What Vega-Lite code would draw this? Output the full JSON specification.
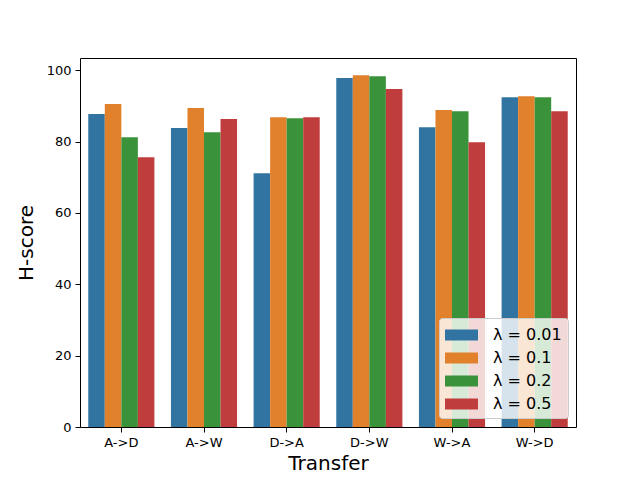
{
  "$schema": "https://vega.github.io/schema/vega-lite/v6.json",
  "autosize": {"type": "none"},
  "padding": {"left": 80, "top": 58, "right": 64, "bottom": 53},
  "width": 496,
  "height": 369,
  "background": "white",
  "config": {
    "font": "DejaVu Sans",
    "view": {"stroke": "black", "strokeWidth": 1}
  },
  "data": {
    "values": [
      {"transfer": "A->D", "lambda": "λ = 0.01", "h": 87.7},
      {"transfer": "A->D", "lambda": "λ = 0.1", "h": 90.5},
      {"transfer": "A->D", "lambda": "λ = 0.2", "h": 81.2},
      {"transfer": "A->D", "lambda": "λ = 0.5", "h": 75.6},
      {"transfer": "A->W", "lambda": "λ = 0.01", "h": 83.8},
      {"transfer": "A->W", "lambda": "λ = 0.1", "h": 89.4},
      {"transfer": "A->W", "lambda": "λ = 0.2", "h": 82.6},
      {"transfer": "A->W", "lambda": "λ = 0.5", "h": 86.3},
      {"transfer": "D->A", "lambda": "λ = 0.01", "h": 71.1},
      {"transfer": "D->A", "lambda": "λ = 0.1", "h": 86.8},
      {"transfer": "D->A", "lambda": "λ = 0.2", "h": 86.5},
      {"transfer": "D->A", "lambda": "λ = 0.5", "h": 86.8},
      {"transfer": "D->W", "lambda": "λ = 0.01", "h": 97.8},
      {"transfer": "D->W", "lambda": "λ = 0.1", "h": 98.6},
      {"transfer": "D->W", "lambda": "λ = 0.2", "h": 98.3},
      {"transfer": "D->W", "lambda": "λ = 0.5", "h": 94.7},
      {"transfer": "W->A", "lambda": "λ = 0.01", "h": 84.0},
      {"transfer": "W->A", "lambda": "λ = 0.1", "h": 88.8},
      {"transfer": "W->A", "lambda": "λ = 0.2", "h": 88.5},
      {"transfer": "W->A", "lambda": "λ = 0.5", "h": 79.8},
      {"transfer": "W->D", "lambda": "λ = 0.01", "h": 92.4},
      {"transfer": "W->D", "lambda": "λ = 0.1", "h": 92.7},
      {"transfer": "W->D", "lambda": "λ = 0.2", "h": 92.4},
      {"transfer": "W->D", "lambda": "λ = 0.5", "h": 88.5}
    ]
  },
  "mark": {"type": "bar"},
  "encoding": {
    "x": {
      "field": "transfer",
      "type": "nominal",
      "sort": null,
      "scale": {"paddingInner": 0.2, "paddingOuter": 0.1},
      "axis": {
        "title": "Transfer",
        "titleFontSize": 20,
        "titleFontWeight": "normal",
        "titleColor": "black",
        "titlePadding": 4,
        "labelAngle": 0,
        "labelFontSize": 13,
        "labelColor": "black",
        "tickColor": "black",
        "tickSize": 5,
        "domain": false,
        "labelPadding": 4
      }
    },
    "xOffset": {"field": "lambda", "type": "nominal", "sort": null},
    "y": {
      "field": "h",
      "type": "quantitative",
      "scale": {"domain": [0, 103.4], "nice": false},
      "axis": {
        "title": "H-score",
        "titleFontSize": 20,
        "titleFontWeight": "normal",
        "titleColor": "black",
        "titlePadding": 10,
        "values": [0, 20, 40, 60, 80, 100],
        "grid": false,
        "labelFontSize": 13,
        "labelColor": "black",
        "tickColor": "black",
        "tickSize": 5,
        "domain": false,
        "labelPadding": 4
      }
    },
    "color": {
      "field": "lambda",
      "type": "nominal",
      "sort": null,
      "scale": {"range": ["#3274a1", "#e1812c", "#3a923a", "#c03d3e"]},
      "legend": {
        "title": null,
        "orient": "none",
        "legendX": 359,
        "legendY": 260,
        "symbolType": "M-1,-0.5H2V0.5H-1Z",
        "symbolSize": 484,
        "symbolOpacity": 1,
        "symbolStrokeWidth": 0,
        "labelFontSize": 16,
        "labelColor": "black",
        "labelOffset": 26,
        "rowPadding": 4,
        "fillColor": "rgba(255,255,255,0.8)",
        "strokeColor": "#cccccc",
        "cornerRadius": 3,
        "padding": 6
      }
    }
  }
}
